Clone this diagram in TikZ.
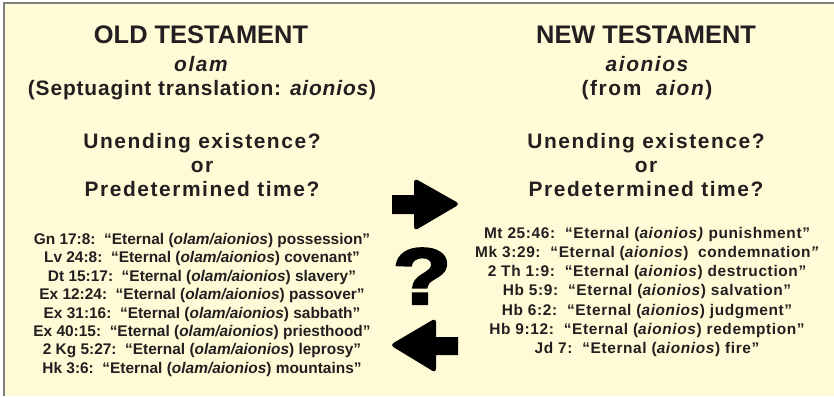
\documentclass[tikz,border=0pt]{standalone}
\usepackage{fontspec}
\usepackage{graphicx}
\usepackage{tikz}
\setmainfont{Liberation Sans}
\newfontfamily\widesans{Liberation Sans}[LetterSpace=7.5]
\newfontfamily\semiwidesans{Liberation Sans}[LetterSpace=4]
\newfontfamily\versesans{Liberation Sans}[LetterSpace=4]
\newfontfamily\heavysans{Liberation Sans Bold}[FakeBold=3]
\definecolor{paper}{HTML}{FFFBD6}
\definecolor{ink}{HTML}{231F20}
\definecolor{framegray}{HTML}{7F7F7F}
\tikzset{
  headtxt/.style={anchor=base, text=ink, inner sep=0pt, font=\fontsize{25.5}{30}\selectfont\bfseries},
  subtxt/.style={anchor=base, text=ink, inner sep=0pt, font=\fontsize{21}{25}\selectfont\widesans\bfseries},
  oldverse/.style={anchor=base, text=ink, inner sep=0pt, font=\fontsize{15.5}{18}\selectfont\bfseries},
  newverse/.style={anchor=base, text=ink, inner sep=0pt, font=\fontsize{15.5}{18}\selectfont\versesans\bfseries},
  bigarrow/.style={fill=black, draw=none}
}
\begin{document}
\begin{tikzpicture}[x=1bp, y=-1bp]
  \useasboundingbox (0,0) rectangle (834,396);
  % Podklad
  \fill[white] (0,0) rectangle (834,396);
  \fill[paper] (4,3) rectangle (834,396);
  \draw[framegray, line width=1.5bp] (4,396) -- (4,3) -- (834,3);

  % Stary zakon
  \node[headtxt] (oldtitle) at (201,43) {OLD TESTAMENT};
  \node[subtxt] (oldword) at (201,71) {\itshape olam};
  \node[subtxt, font=\fontsize{21}{25}\selectfont\semiwidesans\bfseries] (oldsept) at (202,95) {(Septuagint translation: \textit{aionios})};
  \node[subtxt] (oldq1) at (202,148) {Unending existence?};
  \node[subtxt] (oldor) at (202,172) {or};
  \node[subtxt] (oldq2) at (202,196) {Predetermined time?};

  \node[oldverse] (gn) at (202,244.4) {Gn 17:8:~~“Eternal (\textit{olam/aionios}) possession”};
  \node[oldverse] (lv) at (202,262.8) {Lv 24:8:~~“Eternal (\textit{olam/aionios}) covenant”};
  \node[oldverse] (dt) at (202,281.2) {Dt 15:17:~~“Eternal (\textit{olam/aionios}) slavery”};
  \node[oldverse] (ex12) at (202,299.6) {Ex 12:24:~~“Eternal (\textit{olam/aionios}) passover”};
  \node[oldverse] (ex31) at (202,318) {Ex 31:16:~~“Eternal (\textit{olam/aionios}) sabbath”};
  \node[oldverse] (ex40) at (202,336.4) {Ex 40:15:~~“Eternal (\textit{olam/aionios}) priesthood”};
  \node[oldverse] (kg) at (202,354.8) {2 Kg 5:27:~~“Eternal (\textit{olam/aionios}) leprosy”};
  \node[oldverse] (hk) at (202,373.2) {Hk 3:6:~~“Eternal (\textit{olam/aionios}) mountains”};

  % Novy zakon
  \node[headtxt] (newtitle) at (646,43) {NEW TESTAMENT};
  \node[subtxt] (newword) at (647,71) {\itshape aionios};
  \node[subtxt] (newfrom) at (647,95) {(from~~\textit{aion})};
  \node[subtxt] (newq1) at (646,148) {Unending existence?};
  \node[subtxt] (newor) at (646,172) {or};
  \node[subtxt] (newq2) at (646,196) {Predetermined time?};

  \node[newverse] (mt) at (647,238) {Mt 25:46:~~“Eternal (\textit{aionios)} punishment”};
  \node[newverse] (mk) at (647,257.3) {Mk 3:29:~~“Eternal (\textit{aionios})~~condemnation\textit{”}};
  \node[newverse] (th) at (647,276.6) {2 Th 1:9:~~“Eternal (\textit{aionios}) destruction”};
  \node[newverse] (hb5) at (647,295.9) {Hb 5:9:~~“Eternal (\textit{aionios}) salvation”};
  \node[newverse] (hb6) at (647,315.2) {Hb 6:2:~~“Eternal (\textit{aionios}) judgment”};
  \node[newverse] (hb9) at (647,334.5) {Hb 9:12:~~“Eternal (\textit{aionios}) redemption”};
  \node[newverse] (jd) at (647,353.8) {Jd 7:~~“Eternal (\textit{aionios}) fire”};

  % Sipky a otaznik
  \fill[bigarrow] (392,195) -- (414,195) [rounded corners=4bp] -- (414,178) -- (460,204) -- (414,231) [sharp corners] -- (414,214) -- (392,214) -- cycle;
  \fill[bigarrow] (458,337) -- (436,337) [rounded corners=4bp] -- (436,318) -- (390,345) -- (436,373) [sharp corners] -- (436,355) -- (458,355) -- cycle;
  \node[anchor=base, inner sep=0pt, font=\fontsize{80}{90}\selectfont\heavysans] (qmark) at (422,304) {\scalebox{1.2}[1]{?}};
\end{tikzpicture}
\end{document}
